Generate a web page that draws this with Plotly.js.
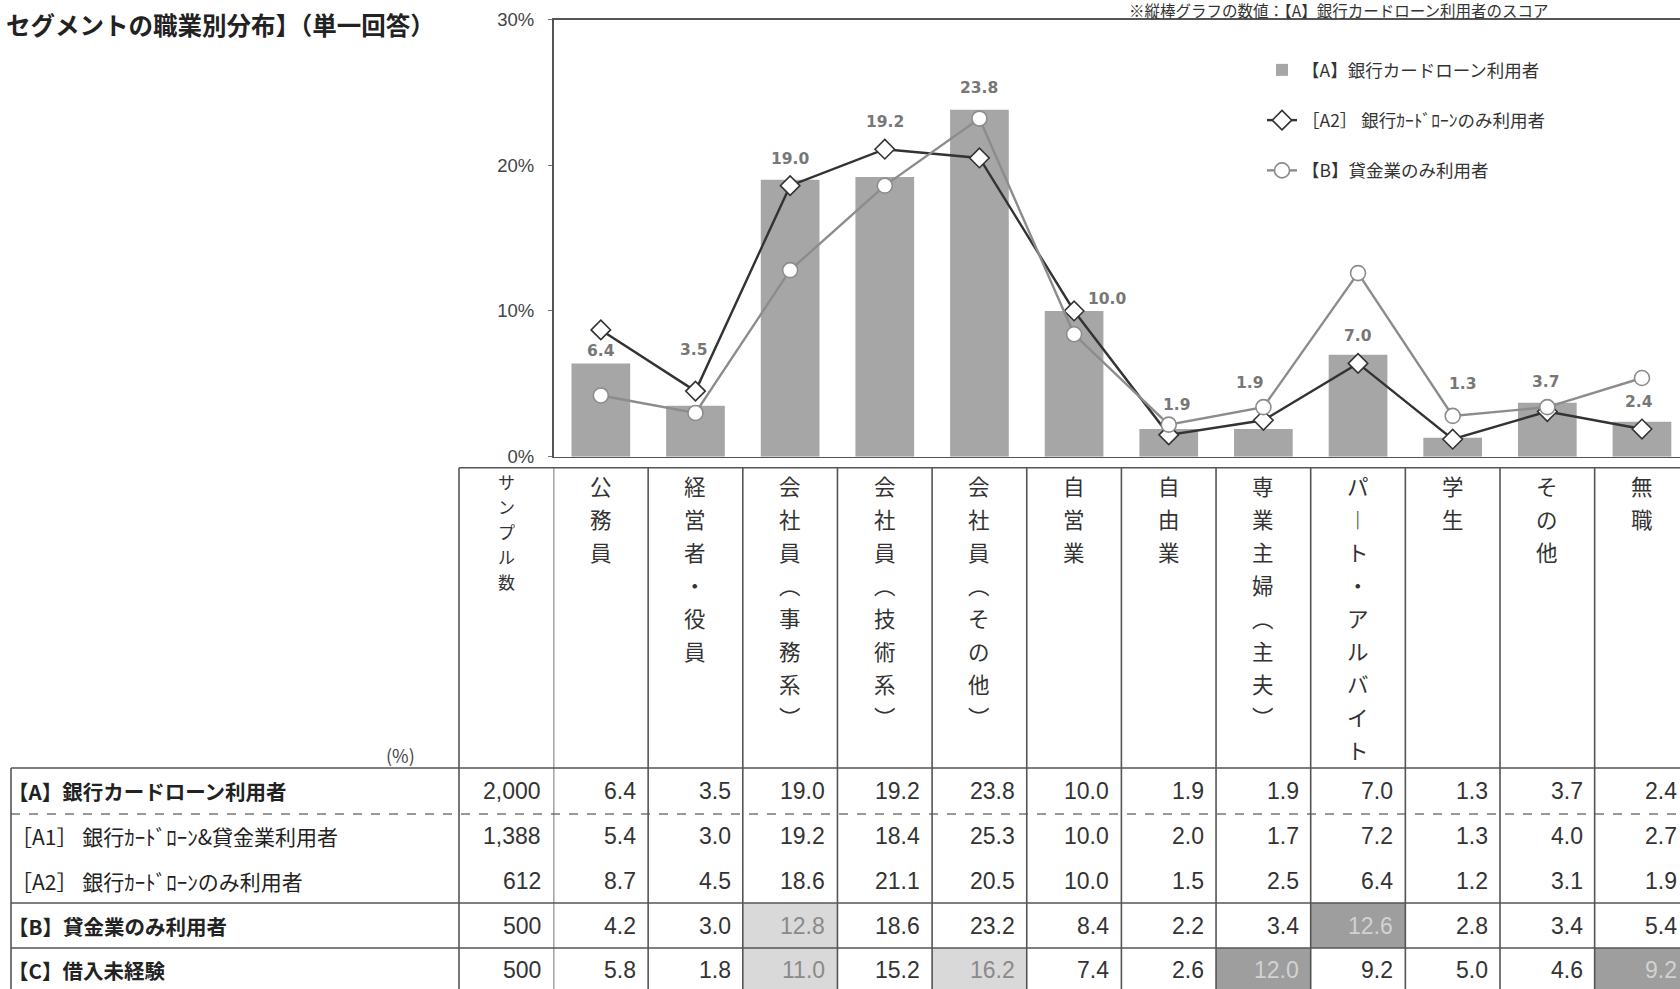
<!DOCTYPE html>
<html>
<head>
<meta charset="utf-8">
<script src="https://cdn.plot.ly/plotly-3.0.1.min.js"></script>
<style>
html,body{margin:0;padding:0;background:#fff;overflow:hidden;}
#chart{width:1680px;height:989px;}
</style>
</head>
<body>
<div id="chart"></div>
<script>
// ---------------- DATA ----------------
const categories = ["公務員","経営者・役員","会社員（事務系）","会社員（技術系）","会社員（その他）","自営業","自由業","専業主婦（主夫）","パート・アルバイト","学生","その他","無職"];
const sampleHeader = "サンプル数";
const rowLabels = ["【A】銀行カードローン利用者","［A1］ 銀行ｶｰﾄﾞﾛｰﾝ&貸金業利用者","［A2］ 銀行ｶｰﾄﾞﾛｰﾝのみ利用者","【B】貸金業のみ利用者","【C】借入未経験"];
const rowBold = [true,false,false,true,true];
const sampleSizes = [2000,1388,612,500,500];
const rowA  = [6.4,3.5,19.0,19.2,23.8,10.0,1.9,1.9,7.0,1.3,3.7,2.4];
const rowA1 = [5.4,3.0,19.2,18.4,25.3,10.0,2.0,1.7,7.2,1.3,4.0,2.7];
const rowA2 = [8.7,4.5,18.6,21.1,20.5,10.0,1.5,2.5,6.4,1.2,3.1,1.9];
const rowB  = [4.2,3.0,12.8,18.6,23.2,8.4,2.2,3.4,12.6,2.8,3.4,5.4];
const rowC  = [5.8,1.8,11.0,15.2,16.2,7.4,2.6,12.0,9.2,5.0,4.6,9.2];
// highlight level per cell (0 none, 1 light, 2 dark)
const hlA  = [0,0,0,0,0,0,0,0,0,0,0,0];
const hlA1 = [0,0,0,0,0,0,0,0,0,0,0,0];
const hlA2 = [0,0,0,0,0,0,0,0,0,0,0,0];
const hlB  = [0,0,1,0,0,0,0,0,2,0,0,0];
const hlC  = [0,0,1,0,1,0,0,2,0,0,0,2];
const nameBar = "【A】銀行カードローン利用者";
const nameA2 = "［A2］ 銀行ｶｰﾄﾞﾛｰﾝのみ利用者";
const nameB = "【B】貸金業のみ利用者";
const titleText = "セグメントの職業別分布】（単一回答）";
const noteText = "※縦棒グラフの数値：【A】銀行カードローン利用者のスコア";
const unitText = "(%)";
const yTickVals = [0,10,20,30];
const yTickText = ["0%","10%","20%","30%"];

// --------------- LAYOUT CONSTANTS ---------------
const W = 1680, H = 989;
const px = x => x / W;
const py = y => 1 - y / H;
const plotLeft = 553.5, plotTop = 19.5, plotBottom = 456.7;
const colW = 94.65;
const rangeEnd = -0.5 + (W - plotLeft) / colW;
const tableTop = 467.7, headerLeft = 459, labelLeft = 11, tableBottom = 995;
const rowTops = [768, 814, 858, 903, 948];
const rowCenters = [791, 836, 880.5, 925.5, 970];
const rowDashed = [false, true, null, false, false]; // line style at top of each row (null = none)
const headFirstY = 485.5, headStep = 33;
const sampFirstY = 481.7, sampStep = 25;
// bar label offsets (px) to avoid the markers
const labelDy = [12,56,21,55,22,12,24,46,19,54,21,20];
const labelDx = [0,-2,0,0,0,33,8,-14,0,10,-2,-3];

const rows = [rowA,rowA1,rowA2,rowB,rowC];
const hls = [hlA,hlA1,hlA2,hlB,hlC];
const lineColor = "#555";
const jp = "Noto Sans CJK JP, sans-serif";
const num = "Liberation Sans, Arial, sans-serif";

// --------------- TRACES ---------------
const traces = [
  {type:"bar", x:categories, y:rowA, name:nameBar, legendgroup:"g1",
   marker:{color:"#a6a6a6"}, width:0.62, hoverinfo:"skip"},
  {type:"scatter", mode:"lines+markers", x:categories, y:rowA2, name:nameA2, legendgroup:"g2",
   line:{color:"#333333", width:2.4},
   marker:{symbol:"diamond", size:15, color:"#ffffff", line:{color:"#333333", width:1.6}}, hoverinfo:"skip"},
  {type:"scatter", mode:"lines+markers", x:categories, y:rowB, name:nameB, legendgroup:"g3",
   line:{color:"#8c8c8c", width:2.4},
   marker:{symbol:"circle", size:15, color:"#ffffff", line:{color:"#8c8c8c", width:1.6}}, hoverinfo:"skip"}
];

// --------------- ANNOTATIONS ---------------
const ann = [];
ann.push({xref:"paper", yref:"paper", x:px(4), y:py(25), xanchor:"left", yanchor:"middle",
  text:"<b>"+titleText+"</b>", showarrow:false, font:{family:jp, size:24.5, color:"#222"}});
ann.push({xref:"paper", yref:"paper", x:px(1127), y:py(10.5), xanchor:"left", yanchor:"middle",
  text:noteText, showarrow:false, font:{family:jp, size:15.5, color:"#333"}});
ann.push({xref:"paper", yref:"paper", x:px(400), y:py(755), xanchor:"center", yanchor:"middle",
  text:unitText, showarrow:false, font:{family:jp, size:18, color:"#444"}});

// bar value labels
categories.forEach((c,i)=>{
  ann.push({xref:"x", yref:"y", x:i, y:rowA[i], xanchor:"center", yanchor:"middle",
    xshift:labelDx[i], yshift:labelDy[i], text:rowA[i].toFixed(1), showarrow:false,
    font:{family:"DejaVu Sans, sans-serif", size:15.5, color:"#777", weight:"bold"}});
});

// vertical header texts
const vert = s => Array.from(s).map(ch => ch==="（"?"︵":ch==="）"?"︶":ch==="ー"?"︱":ch);
categories.forEach((c,i)=>{
  vert(c).forEach((ch,k)=>{
    ann.push({xref:"x", yref:"paper", x:i, y:py(headFirstY + k*headStep), xanchor:"center", yanchor:"middle",
      text:ch, showarrow:false, font:{family:jp, size:21.5, color:"#333"}});
  });
});
Array.from(sampleHeader).forEach((ch,k)=>{
  ann.push({xref:"paper", yref:"paper", x:px((headerLeft+plotLeft)/2), y:py(sampFirstY + k*sampStep),
    xanchor:"center", yanchor:"middle", text:ch, showarrow:false, font:{family:jp, size:17, color:"#333"}});
});

// table rows
const shapes = [];
rows.forEach((vals,r)=>{
  const yc = rowCenters[r];
  const top = rowTops[r], bot = (r+1<rowTops.length)?rowTops[r+1]:tableBottom;
  ann.push({xref:"paper", yref:"paper", x:px(rowBold[r] ? labelLeft-5 : labelLeft-2), y:py(yc), xanchor:"left", yanchor:"middle",
    text: rowBold[r] ? "<b>"+rowLabels[r]+"</b>" : rowLabels[r], showarrow:false,
    font:{family:jp, size: rowBold[r] ? 20.5 : 21, color:"#222"}});
  ann.push({xref:"paper", yref:"paper", x:px(plotLeft-11), y:py(yc), xanchor:"right", yanchor:"middle",
    text:sampleSizes[r].toLocaleString("en-US"), showarrow:false, font:{family:num, size:23, color:"#333"}});
  vals.forEach((v,i)=>{
    const h = hls[r][i];
    if(h>0){
      shapes.push({type:"rect", xref:"x", yref:"paper", x0:i-0.5, x1:i+0.5, y0:py(bot), y1:py(top),
        fillcolor: h===1 ? "#d9d9d9" : "#9e9e9e", line:{width:0}, layer:"above"});
    }
    ann.push({xref:"x", yref:"paper", x:i, y:py(yc), xanchor:"right", yanchor:"middle",
      xshift: colW/2 - 10, text:v.toFixed(1), showarrow:false,
      font:{family:num, size:23, color: h===0 ? "#333" : (h===1 ? "#8a8a8a" : "#d2d2d2")}});
  });
});

// table lines
const ln = {color:lineColor, width:1.6};
shapes.push({type:"line", xref:"paper", yref:"paper", x0:px(headerLeft), x1:1.01, y0:py(tableTop), y1:py(tableTop), line:ln, layer:"above"});
rowTops.forEach((t,r)=>{
  if(rowDashed[r]===null) return;
  shapes.push({type:"line", xref:"paper", yref:"paper", x0:px(labelLeft), x1:1.01, y0:py(t), y1:py(t),
    line: rowDashed[r] ? {color:"#777", width:1.4, dash:"dash"} : ln, layer:"above"});
});
shapes.push({type:"line", xref:"paper", yref:"paper", x0:px(labelLeft), x1:px(labelLeft), y0:py(rowTops[0]), y1:py(tableBottom), line:ln, layer:"above"});
shapes.push({type:"line", xref:"paper", yref:"paper", x0:px(headerLeft), x1:px(headerLeft), y0:py(tableTop), y1:py(tableBottom), line:ln, layer:"above"});
for(let i=0;i<=categories.length;i++){
  shapes.push({type:"line", xref:"x", yref:"paper", x0:i-0.5, x1:i-0.5, y0:py(tableTop), y1:py(tableBottom), line:ln, layer:"above"});
}

const layout = {
  width:W, height:H, margin:{l:0,r:0,t:0,b:0},
  paper_bgcolor:"#ffffff", plot_bgcolor:"#ffffff",
  showlegend:true,
  legend:{x:px(1262), y:py(52), xanchor:"left", yanchor:"top", bgcolor:"rgba(0,0,0,0)",
    traceorder:"grouped", tracegroupgap:24.5, font:{family:jp, size:17.5, color:"#333"}},
  xaxis:{type:"category", domain:[px(plotLeft),1], range:[-0.5, rangeEnd], showticklabels:false, ticks:"",
    showline:true, mirror:true, linecolor:lineColor, linewidth:1.6, showgrid:false, zeroline:false, fixedrange:true},
  yaxis:{domain:[py(plotBottom), py(plotTop)], range:[0,30], tickvals:yTickVals, ticktext:yTickText,
    ticks:"outside", ticklen:4, tickcolor:"#777", showline:true, linecolor:lineColor, linewidth:1.6,
    showgrid:false, zeroline:false, fixedrange:true, ticklabelstandoff:10,
    tickfont:{family:num, size:18.5, color:"#444"}},
  bargap:0.38,
  annotations:ann, shapes:shapes
};

Plotly.newPlot("chart", traces, layout, {displayModeBar:false, staticPlot:true});
</script>
</body>
</html>
